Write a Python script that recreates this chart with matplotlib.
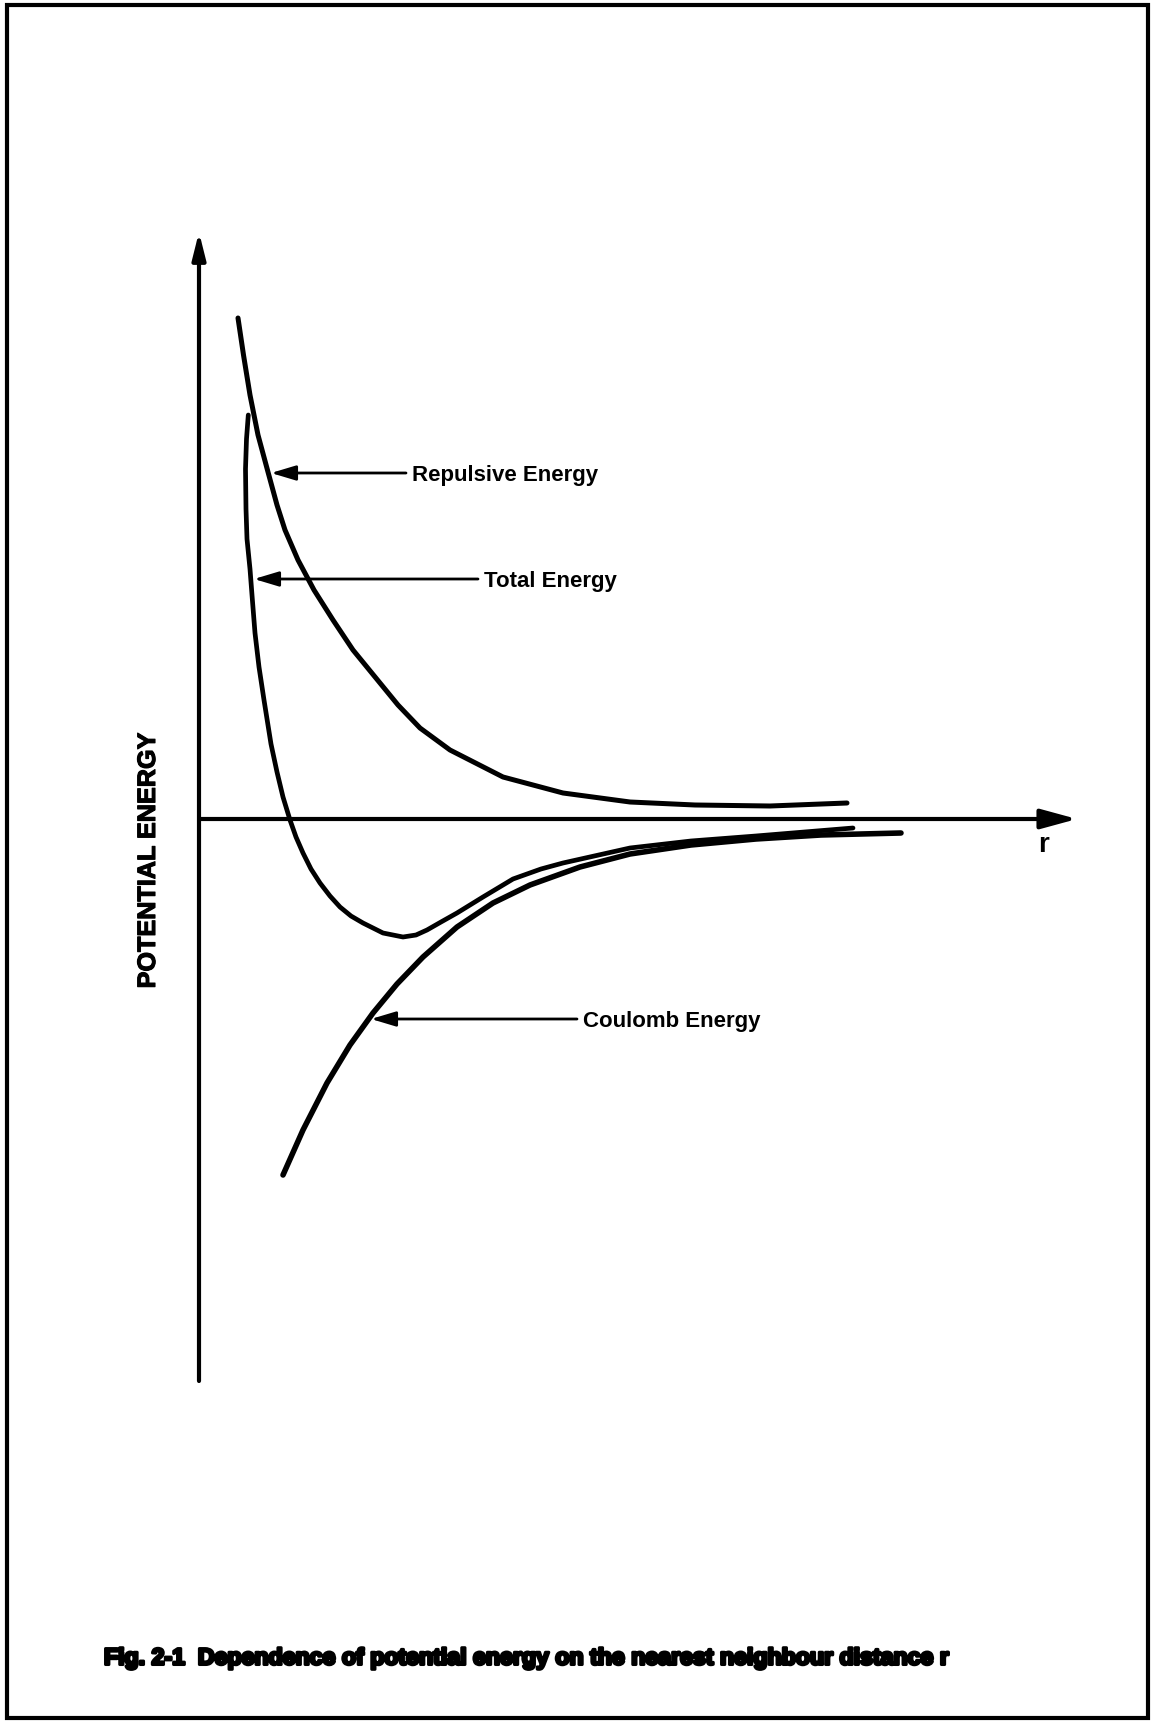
import numpy as np
import matplotlib
matplotlib.use('Agg')
import matplotlib.pyplot as plt
import matplotlib.patheffects as pe
from matplotlib.patches import Rectangle

# values; r and energy in plot units, origin where the axes cross
rep_r = [0.37, 0.425, 0.49, 0.57, 0.67, 0.76, 0.84, 0.97, 1.13, 1.32, 1.52, 1.79, 1.97, 2.19, 2.49, 3.02, 3.62, 4.29, 4.94, 5.69, 6.46]
rep_e = [5.01, 4.64, 4.24, 3.84, 3.47, 3.14, 2.89, 2.59, 2.29, 1.99, 1.69, 1.36, 1.14, 0.91, 0.69, 0.42, 0.26, 0.17, 0.14, 0.13, 0.16]

tot_r = [0.473, 0.455, 0.445, 0.45, 0.46, 0.49, 0.51, 0.54, 0.58, 0.63, 0.70, 0.76, 0.82, 0.89, 0.95, 1.02, 1.10, 1.19, 1.29, 1.39,
         1.50, 1.62, 1.82, 2.02, 2.15, 2.26, 2.40, 2.56, 2.82, 3.12, 3.40, 3.62, 4.29, 4.90, 5.55, 6.52]
tot_e = [4.04, 3.80, 3.50, 3.10, 2.80, 2.50, 2.24, 1.86, 1.52, 1.19, 0.75, 0.47, 0.22, -0.01, -0.18, -0.34, -0.50, -0.64, -0.77, -0.88,
         -0.97, -1.04, -1.14, -1.18, -1.16, -1.11, -1.03, -0.94, -0.78, -0.60, -0.50, -0.44, -0.29, -0.22, -0.17, -0.09]

cou_r = [0.82, 1.02, 1.26, 1.49, 1.72, 1.96, 2.22, 2.56, 2.92, 3.29, 3.79, 4.29, 4.90, 5.55, 6.20, 7.00]
cou_e = [-3.56, -3.11, -2.64, -2.26, -1.94, -1.65, -1.38, -1.08, -0.84, -0.66, -0.48, -0.35, -0.26, -0.20, -0.16, -0.14]

labels = ['Repulsive Energy', 'Total Energy', 'Coulomb Energy']
label_tip = [(0.70, 3.46), (0.53, 2.40), (1.70, -2.00)]
label_tail = [2.05, 2.77, 3.76]

ylabel = 'POTENTIAL ENERGY'
xlabel = 'r'
caption = 'Fig. 2-1  Dependence of potential energy on the nearest neighbour distance r'

plt.rcParams['font.family'] = ['Liberation Sans', 'DejaVu Sans']

W, H = 1154, 1722
fig = plt.figure(figsize=(W / 100, H / 100), dpi=100)
fig.patch.set_facecolor('white')
ax = fig.add_axes([0, 0, 1, 1])
# 1 unit = 100 px, origin at pixel (201, 819)
ax.set_xlim(-2.01, (W - 201) / 100)
ax.set_ylim((819 - H) / 100, 8.19)
ax.axis('off')

# axes with arrow heads
ax.annotate('', xy=(-0.02, 5.87), xytext=(-0.02, -5.62),
            arrowprops=dict(arrowstyle='-|>,head_length=16,head_width=4', mutation_scale=1,
                            lw=3, color='black', shrinkA=0, shrinkB=0))
ax.annotate('', xy=(8.76, 0), xytext=(-0.02, 0),
            arrowprops=dict(arrowstyle='-|>,head_length=22,head_width=6', mutation_scale=1,
                            lw=3, color='black', shrinkA=0, shrinkB=0))

ax.plot(rep_r, rep_e, color='black', lw=3.6, solid_capstyle='round', solid_joinstyle='round')
ax.plot(tot_r, tot_e, color='black', lw=3.4, solid_capstyle='round', solid_joinstyle='round')
ax.plot(cou_r, cou_e, color='black', lw=4.0, solid_capstyle='round', solid_joinstyle='round')

for lab, tip, tail in zip(labels, label_tip, label_tail):
    ax.annotate('', xy=tip, xytext=(tail, tip[1]),
                arrowprops=dict(arrowstyle='-|>,head_length=15,head_width=4.5', mutation_scale=1,
                                lw=2, color='black', shrinkA=0, shrinkB=0))
    ax.text(tail + 0.06, tip[1], lab, fontsize=16, fontweight='bold', ha='left', va='center_baseline')

ax.text(8.43, -0.26, xlabel, fontsize=20, fontweight='bold', ha='center', va='center')

yl = ax.text(-0.53, -0.41, ylabel, fontsize=18, fontweight='bold', rotation=90,
             ha='center', va='center',
             path_effects=[pe.withStroke(linewidth=0.8, foreground='black')])
cap = ax.text(-0.97, -8.39, caption, fontsize=16, fontweight='bold', ha='left', va='center',
              path_effects=[pe.withStroke(linewidth=2.2, foreground='black')])

# fit the long texts to the widths measured on the scan
fig.canvas.draw()
r = fig.canvas.get_renderer()
bb = yl.get_window_extent(r)
yl.set_fontsize(18 * 255 / bb.height)
bb = cap.get_window_extent(r)
cap.set_fontsize(16 * 843 / bb.width)

# scan frame
fig.patches.append(Rectangle((7 / W, 4 / H), 1141 / W, 1713 / H, transform=fig.transFigure,
                             fill=False, lw=3, edgecolor='black'))

fig.savefig('out.png', dpi=100, facecolor='white')
